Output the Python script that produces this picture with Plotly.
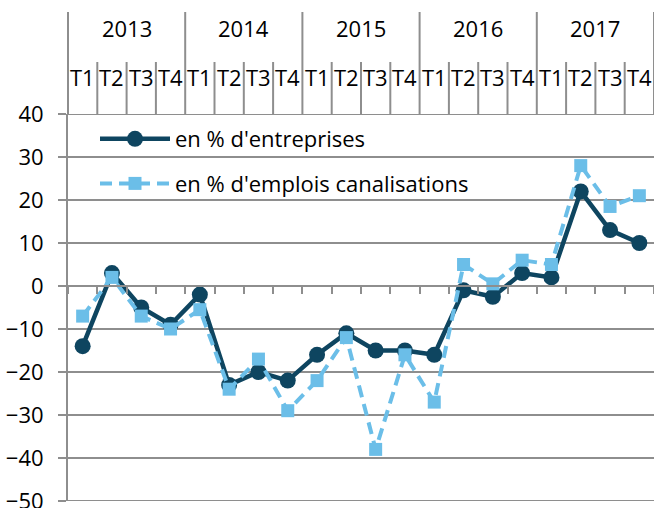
import plotly.graph_objects as go

years = ["2013", "2014", "2015", "2016", "2017"]
quarters = ["T1", "T2", "T3", "T4"]
entreprises = [-14, 3, -5, -9, -2, -23, -20, -22, -16, -11, -15, -15, -16, -1, -2.5, 3, 2, 22, 13, 10]
emplois = [-7, 2, -7, -10, -5.5, -24, -17, -29, -22, -12, -38, -16, -27, 5, 0.5, 6, 5, 28, 18.5, 21]
name_ent = "en % d'entreprises"
name_emp = "en % d'emplois canalisations"
y_ticks = [-50, -40, -30, -20, -10, 0, 10, 20, 30, 40]

cats = [f"{y} {q}" for y in years for q in quarters]
n = len(cats)

FONT = "Open Sans"
DARK = "#0e4560"
LIGHT = "#6bbee8"
GRID = "#8e8e8e"

W, H = 654, 508
ML, MR, MT, MB = 68, 0, 114, 7
plot_h = H - MT - MB


def py(px):
    return (H - MB - px) / plot_h


fig = go.Figure()
fig.add_trace(go.Scatter(
    x=cats, y=entreprises, name=name_ent, mode="lines+markers",
    line=dict(color=DARK, width=4.5),
    marker=dict(symbol="circle", size=16, color=DARK),
    legendgroup="a",
))
fig.add_trace(go.Scatter(
    x=cats, y=emplois, name=name_emp, mode="lines+markers",
    line=dict(color=LIGHT, width=4, dash="12px,7px"),
    marker=dict(symbol="square", size=13, color=LIGHT),
    legendgroup="b",
))

ymin, ymax = y_ticks[0], y_ticks[-1]

shapes = []
for i in range(n + 1):
    is_year = i % len(quarters) == 0
    shapes.append(dict(
        type="line", xref="paper", yref="paper",
        x0=i / n, x1=i / n,
        y0=1, y1=py(12) if is_year else py(62),
        line=dict(color=GRID, width=2),
    ))
# edge gridlines (plotly drops gridlines lying on the plot-area edges)
for v in (ymin, ymax):
    shapes.append(dict(
        type="line", xref="paper", yref="y", x0=-8 / (W - ML - MR), x1=1,
        y0=v, y1=v, line=dict(color=GRID, width=2), layer="below",
    ))

annotations = []
for k, yr in enumerate(years):
    annotations.append(dict(
        x=k * len(quarters) + (len(quarters) - 1) / 2, y=py(28),
        xref="x", yref="paper", text=yr, showarrow=False,
        font=dict(family=FONT, size=22, color="#000"), yanchor="middle",
    ))
for i, c in enumerate(cats):
    annotations.append(dict(
        x=i, y=py(77), xref="x", yref="paper", text=c.split(" ")[1],
        showarrow=False, font=dict(family=FONT, size=22, color="#000"),
        yanchor="middle",
    ))

fig.update_layout(
    width=W, height=H,
    margin=dict(l=ML, r=MR, t=MT, b=MB, pad=0, autoexpand=False),
    paper_bgcolor="white", plot_bgcolor="white",
    font=dict(family=FONT, size=22, color="#000"),
    shapes=shapes, annotations=annotations,
    showlegend=True,
    legend=dict(
        x=(95 - ML) / (W - ML - MR), y=py(118), xanchor="left", yanchor="top",
        bgcolor="rgba(0,0,0,0)", font=dict(family=FONT, size=22, color="#000"),
        itemwidth=70, traceorder="grouped", tracegroupgap=13,
    ),
    xaxis=dict(
        type="category", categoryorder="array", categoryarray=cats,
        range=[-0.5, n - 0.5], anchor="free", automargin=False,
        position=(0 - ymin) / (ymax - ymin),
        showline=True, linecolor=GRID, linewidth=2,
        ticks="outside", tickson="boundaries", ticklen=7, tickwidth=2,
        tickcolor=GRID, showticklabels=False, showgrid=False, zeroline=False,
    ),
    yaxis=dict(
        range=[ymin, ymax], tickvals=y_ticks, showgrid=True, gridcolor=GRID,
        gridwidth=2, zeroline=False, showline=True, linecolor=GRID, linewidth=2,
        ticks="outside", ticklen=8, tickwidth=2, tickcolor=GRID,
        ticklabelstandoff=10, ticklabeloverflow="allow", automargin=False,
        tickfont=dict(family=FONT, size=22, color="#000"),
    ),
)

fig.write_html("out.html", config={"displayModeBar": False},
               post_script="document.body.style.margin='0';")
